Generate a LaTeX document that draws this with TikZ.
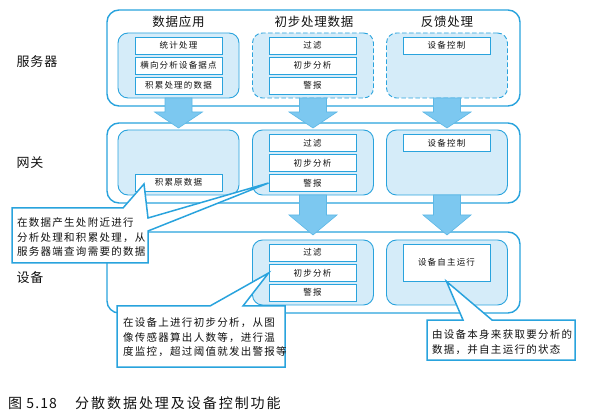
\documentclass[tikz,border=0pt]{standalone}
\usepackage{fontspec}
\setmainfont{Noto Sans CJK SC}
\newfontfamily\cjk{Noto Sans CJK SC}
\usepackage{tikz}
\usetikzlibrary{positioning}

\definecolor{lineblue}{HTML}{29A3DD}
\definecolor{paleblue}{HTML}{D5ECF9}
\definecolor{arrowblue}{HTML}{7CC8F0}
\definecolor{arrowedge}{HTML}{5DB8E6}
\definecolor{inkgray}{HTML}{111111}

% block arrow: x, top of shaft, start of head, tip
\newcommand{\BlockArrow}[4]{%
  \draw[ArrowStyle] ({#1-13.5},#2) -- ({#1+13.5},#2) -- ({#1+13.5},#3)
    -- ({#1+24},#3) -- (#1,#4) -- ({#1-24},#3) -- ({#1-13.5},#3) -- cycle;}

\begin{document}
\begin{tikzpicture}[x=1pt,y=-1pt,every node/.style={text=inkgray}]
		\tikzstyle{OuterStyle}=[draw=lineblue,line width=1.4pt,rounded corners=12pt,fill=white,minimum width=413pt]
		\tikzstyle{InnerStyle}=[draw=lineblue,line width=0.9pt,rounded corners=10pt,fill=paleblue,minimum width=121pt,minimum height=65pt]
		\tikzstyle{DashStyle}=[dash pattern=on 4.5pt off 2.5pt]
		\tikzstyle{ItemStyle}=[draw=lineblue,line width=0.9pt,fill=white,minimum width=87pt,minimum height=17pt,inner sep=0pt,
		  font=\cjk\fontsize{8.5}{10}\selectfont\addfontfeature{LetterSpace=14}]
		\tikzstyle{HeadStyle}=[font=\cjk\fontsize{12.5}{14}\selectfont\addfontfeature{LetterSpace=6}]
		\tikzstyle{LayerStyle}=[font=\cjk\fontsize{13}{15}\selectfont\addfontfeature{LetterSpace=6}]
		\tikzstyle{ArrowStyle}=[fill=arrowblue,draw=arrowedge,line width=0.6pt,line join=miter]
		\tikzstyle{CalloutStyle}=[draw=lineblue,line width=1.5pt,fill=white,line join=miter]
		\tikzstyle{NoteStyle}=[anchor=west,align=left,inner sep=0pt,
		  font=\cjk\fontsize{10.5}{14.5}\selectfont\addfontfeature{LetterSpace=12}]
		\useasboundingbox (0,0) rectangle (591,419);
		% layers
		\node[OuterStyle,minimum height=96pt] (server) at (313.5,58) {};
		\node[OuterStyle,minimum height=80pt] (gateway) at (313.5,163) {};
		\node[OuterStyle,minimum height=81pt] (device) at (313.5,272.5) {};
		\node[LayerStyle] (lserver) at (37,62) {服务器};
		\node[LayerStyle] (lgateway) at (30,163) {网关};
		\node[LayerStyle] (ldevice) at (30,278) {设备};
		\node[HeadStyle] (happ) at (178.5,22) {数据应用};
		\node[HeadStyle] (hpre) at (314,22) {初步处理数据};
		\node[HeadStyle] (hfb) at (447,22) {反馈处理};
		% server
		\node[InnerStyle] (sv1) at (178.5,65.5) {};
		\node[InnerStyle,DashStyle] (sv2) at (313,65.5) {};
		\node[InnerStyle,DashStyle] (sv3) at (447,65.5) {};
		\node[ItemStyle] (svstat) at (178.5,45.5) {统计处理};
		\node[ItemStyle] (svcross) at (178.5,65.5) {横向分析设备据点};
		\node[ItemStyle] (svdata) at (178.5,85.5) {积累处理的数据};
		\node[ItemStyle] (svfilter) at (312.5,45.5) {过滤};
		\node[ItemStyle] (svana) at (312.5,65.5) {初步分析};
		\node[ItemStyle] (svalarm) at (312.5,85.5) {警报};
		\node[ItemStyle] (svctrl) at (446.5,45.5) {设备控制};
		% gateway
		\node[InnerStyle] (gw1) at (178.5,162.5) {};
		\node[InnerStyle] (gw2) at (313,162.5) {};
		\node[InnerStyle] (gw3) at (447,162.5) {};
		\node[ItemStyle] (gwacc) at (178.5,182.5) {积累原数据};
		\node[ItemStyle] (gwfilter) at (312.5,143) {过滤};
		\node[ItemStyle] (gwana) at (312.5,163) {初步分析};
		\node[ItemStyle] (gwalarm) at (312.5,183) {警报};
		\node[ItemStyle] (gwctrl) at (446.5,143) {设备控制};
		% device
		\node[InnerStyle] (dv2) at (313,272.5) {};
		\node[InnerStyle] (dv3) at (447,272.5) {};
		\node[ItemStyle] (dvfilter) at (312.5,252.5) {过滤};
		\node[ItemStyle] (dvana) at (312.5,273) {初步分析};
		\node[ItemStyle] (dvalarm) at (312.5,292.5) {警报};
		\node[ItemStyle,minimum height=37pt] (dvauto) at (446.5,262.5) {设备自主运行};
		% arrows between layers
		\BlockArrow{178.5}{98}{112}{128}
		\BlockArrow{313}{98}{112}{128}
		\BlockArrow{447}{98}{112}{128}
		\BlockArrow{313}{195}{215}{235}
		\BlockArrow{447}{195}{215}{235}
		% callouts
		\coordinate (tipA) at (144,184);
		\draw[CalloutStyle] (12,208) -- (123,208) -- (tipA) -- (148,218) -- (gwalarm.west)
		  -- (148,231) -- (148,263) -- (12,263) -- cycle;
		\node[NoteStyle] (note1) at (17,237.5) {在数据产生处附近进行\\分析处理和积累处理，从\\服务器端查询需要的数据};
		\draw[CalloutStyle] (117,306) -- (210,306) -- (dvana.west) -- (243,306) -- (285,306)
		  -- (285,367) -- (117,367) -- cycle;
		\node[NoteStyle] (note2) at (123,337.5) {在设备上进行初步分析，从图\\像传感器算出人数等，进行温\\度监控，超过阈值就发出警报等};
		\draw[CalloutStyle] (427,320) -- (463,320) -- (dvauto.south) -- (492,320) -- (575,320)
		  -- (575,360) -- (427,360) -- cycle;
		\node[NoteStyle,font=\cjk\fontsize{10.5}{15}\selectfont\addfontfeature{LetterSpace=12}] (note3) at (432,342.5) {由设备本身来获取要分析的\\数据，并自主运行的状态};
		% caption
		\node[anchor=west,inner sep=0pt,font=\fontsize{14}{16}\selectfont\addfontfeature{LetterSpace=8}] (fig) at (8,403) {图 5.18};
		\node[anchor=west,inner sep=0pt,font=\cjk\fontsize{14}{16}\selectfont\addfontfeature{LetterSpace=14}] (title) at (75,403) {分散数据处理及设备控制功能};
	\end{tikzpicture}
\end{document}
